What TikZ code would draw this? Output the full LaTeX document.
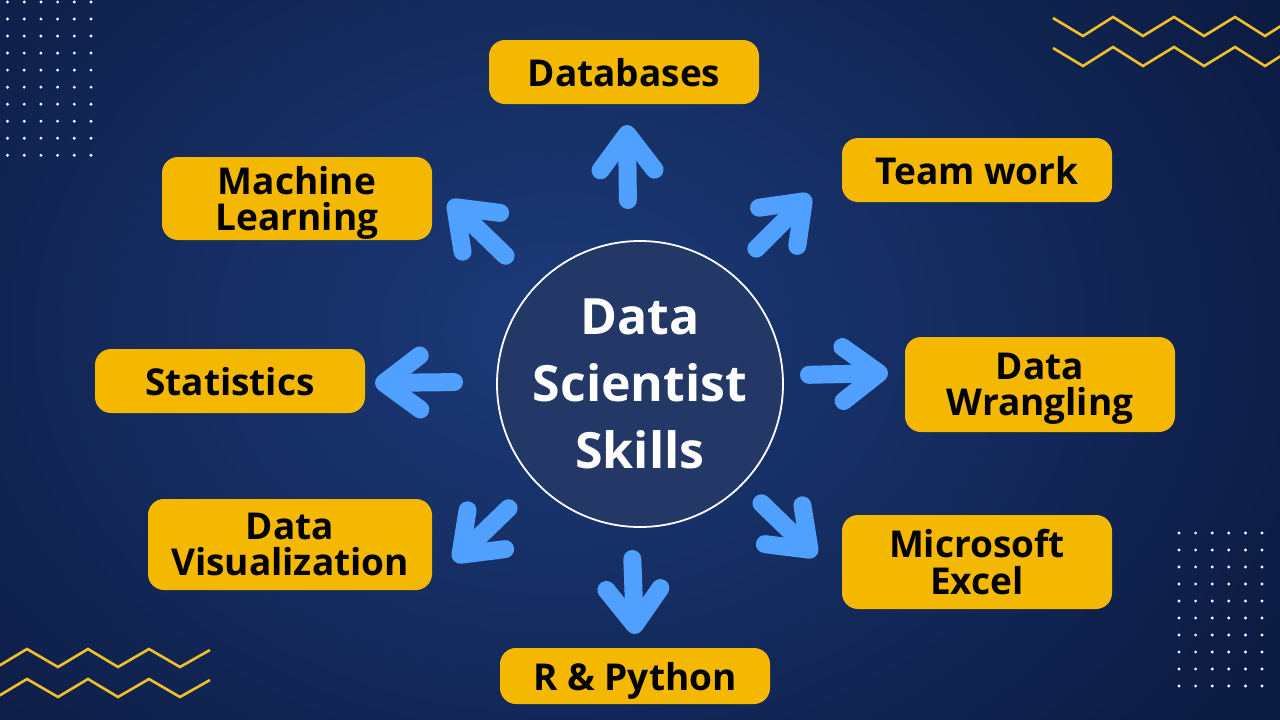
\documentclass[tikz,border=0pt]{standalone}
\usepackage{fontspec}
\setmainfont{Open Sans}
\usetikzlibrary{arrows.meta}
\definecolor{bgIn}{RGB}{28,59,122}
\definecolor{bgOut}{RGB}{12,27,66}
\definecolor{circfill}{RGB}{36,56,104}
\definecolor{gold}{RGB}{245,184,0}
\definecolor{zig}{RGB}{240,192,40}
\definecolor{arrowblue}{RGB}{80,160,255}
\begin{document}
\begin{tikzpicture}[x=1pt,y=-1pt,
  skill/.style={fill=gold, rounded corners=16pt, minimum width=270pt, minimum height=64pt,
    inner sep=0pt, align=center, text depth=0pt, font=\fontsize{37}{36.5}\selectfont\bfseries, text=black},
  arr/.style={draw=arrowblue, line width=18pt, line cap=round, shorten <=9pt,
    -{Straight Barb[round, length=36pt, width=54pt]}},
  zz/.style={draw=zig, line width=2.6pt},
  dotmark/.style={fill=white}]
\useasboundingbox (0,0) rectangle (1280,720);
% background
\begin{scope}
  \clip (0,0) rectangle (1280,720);
  \shade[inner color=bgIn, outer color=bgOut] (-260,-300) rectangle (1380,960);
\end{scope}
% dot grids
\foreach \i in {0,...,5}{
  \foreach \j in {0,...,9}{
    \fill[dotmark] (7.5+16.7*\i, 2+17.03*\j) circle (1.6pt);
    \fill[dotmark] (1179+16.6*\i, 533+17.0*\j) circle (1.6pt);
  }
}
% zigzags
\foreach \d in {0,30}{
  \draw[zz, yshift=-\d pt] (1053,18) -- (1083,36) -- (1113,17) -- (1143,36) -- (1174,17) -- (1204,36) -- (1235,17) -- (1265,36) -- (1295,17);
  \draw[zz, yshift=-\d pt] (-3,667) -- (27,649) -- (58,667) -- (88,649) -- (118,667) -- (149,649) -- (180,667) -- (210,650);
}
% centre
\node[circle, draw=white, line width=1.8pt, fill=circfill, minimum size=286pt, inner sep=0pt,
  text=white, font=\fontsize{50}{67}\selectfont\bfseries, align=center] (c) at (640,384)
  {Data\\Scientist\\Skills};
% skill boxes
\node[skill] (db) at (624,72) {Databases};
\node[skill] (tw) at (977,170) {Team work};
\node[skill, minimum height=83pt] (ml) at (297,198.5) {Machine\\Learning};
\node[skill] (st) at (230,381) {Statistics};
\node[skill, minimum height=95pt] (dw) at (1040,384.5) {Data\\Wrangling};
\node[skill, minimum width=284pt, minimum height=91pt] (dv) at (290,544.5) {Data\\Visualization};
\node[skill, minimum height=94pt] (me) at (977,562) {Microsoft\\Excel};
\node[skill, minimum height=56pt] (rp) at (635,676) {R \& Python};
% arrow end points
\coordinate (a1s) at (628,209); \coordinate (a1e) at (627,125);
\coordinate (a2s) at (750,255); \coordinate (a2e) at (810,195);
\coordinate (a3s) at (512,262); \coordinate (a3e) at (449,201);
\coordinate (a4s) at (463,382); \coordinate (a4e) at (375,383);
\coordinate (a5s) at (800,375); \coordinate (a5e) at (888,373);
\coordinate (a6s) at (515,502); \coordinate (a6e) at (454,561);
\coordinate (a7s) at (632,550); \coordinate (a7e) at (635,634);
\coordinate (a8s) at (755,497); \coordinate (a8e) at (816,556);
\foreach \k in {1,...,8}{
  \draw[arr] (a\k s) -- (a\k e);
}
\end{tikzpicture}
\end{document}
